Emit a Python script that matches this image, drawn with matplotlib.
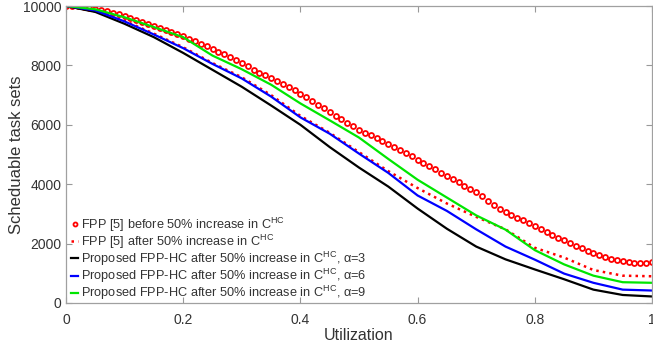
import numpy as np
import matplotlib
matplotlib.use('Agg')
import matplotlib.pyplot as plt

plt.rcParams['font.family'] = ['Liberation Sans', 'DejaVu Sans']
plt.rcParams['mathtext.fontset'] = 'custom'
plt.rcParams['mathtext.rm'] = 'Liberation Sans'

# Utilization grid for the circle-marker series (step 0.01)
util_fine = np.round(np.arange(0, 101) * 0.01, 2)
fpp_before = [
    10000, 9995, 9985, 9965, 9940, 9905, 9865, 9820, 9770, 9715,
    9655, 9595, 9530, 9465, 9400, 9330, 9260, 9190, 9120, 9050,
    8975, 8895, 8815, 8730, 8645, 8560, 8465, 8370, 8270, 8170,
    8070, 7965, 7860, 7760, 7660, 7560, 7460, 7360, 7260, 7155,
    7050, 6930, 6810, 6680, 6550, 6420, 6300, 6180, 6060, 5950,
    5840, 5740, 5645, 5550, 5455, 5360, 5255, 5150, 5045, 4940,
    4830, 4720, 4610, 4500, 4390, 4280, 4170, 4060, 3950, 3840,
    3730, 3590, 3450, 3310, 3180, 3060, 2960, 2870, 2780, 2690,
    2600, 2500, 2400, 2300, 2200, 2105, 2015, 1930, 1845, 1760,
    1680, 1610, 1545, 1490, 1440, 1405, 1375, 1355, 1345, 1350,
    1365,
]

# Utilization grid for the line series (step 0.05)
util = np.round(np.arange(0, 21) * 0.05, 2)
fpp_after = [10000, 9860, 9500, 9070, 8610, 8080, 7600, 7000, 6300, 5730,
             5080, 4440, 3870, 3350, 2900, 2480, 1860, 1530, 1110, 920, 900]
hc_a3 = [10000, 9800, 9400, 8950, 8420, 7850, 7280, 6650, 6000, 5250,
         4560, 3920, 3180, 2500, 1900, 1470, 1130, 800, 450, 270, 220]
hc_a6 = [10000, 9850, 9480, 9040, 8580, 8050, 7560, 6950, 6250, 5700,
         5030, 4380, 3620, 3100, 2480, 1900, 1460, 990, 680, 450, 420]
hc_a9 = [10000, 9890, 9620, 9290, 8950, 8330, 7870, 7350, 6720, 6150,
         5570, 4850, 4150, 3550, 2950, 2470, 1780, 1300, 920, 700, 680]

labels = [
    r'FPP [5] before 50% increase in C$^{\mathrm{HC}}$',
    r'FPP [5] after 50% increase in C$^{\mathrm{HC}}$',
    r'Proposed FPP-HC after 50% increase in C$^{\mathrm{HC}}$, α=3',
    r'Proposed FPP-HC after 50% increase in C$^{\mathrm{HC}}$, α=6',
    r'Proposed FPP-HC after 50% increase in C$^{\mathrm{HC}}$, α=9',
]

fig = plt.figure(figsize=(6.53, 3.45), dpi=100)
ax = fig.add_axes([66 / 653, 42 / 345, 586 / 653, 297 / 345])

ax.plot(util_fine, fpp_before, 'o', color='red', mfc='white', ms=3.6, mew=1.3, label=labels[0])
ax.plot(util, fpp_after, ':', color='red', lw=1.8, label=labels[1])
ax.plot(util, hc_a3, '-', color='black', lw=1.6, label=labels[2])
ax.plot(util, hc_a6, '-', color='blue', lw=1.6, label=labels[3])
ax.plot(util, hc_a9, '-', color='#00e600', lw=1.6, label=labels[4])

ax.set_xlim(0, 1)
ax.set_ylim(0, 10000)
ax.set_xticks([0, 0.2, 0.4, 0.6, 0.8, 1])
ax.set_xticklabels(['0', '0.2', '0.4', '0.6', '0.8', '1'])
ax.set_yticks([0, 2000, 4000, 6000, 8000, 10000])
ax.tick_params(direction='in', length=4, width=0.8, color='#999999',
               labelcolor='#333333', labelsize=10, top=True, right=True)
ax.tick_params(axis='x', pad=7)
for s in ax.spines.values():
    s.set_color('#a0a0a0')
    s.set_linewidth(0.9)

ax.set_xlabel('Utilization', fontsize=11.5, color='#333333', labelpad=1)
ax.set_ylabel('Scheduable task sets', fontsize=12, color='#333333', labelpad=-1)

leg = ax.legend(loc='upper left', bbox_to_anchor=(0.008, 0.295), frameon=False,
                fontsize=9.2, handlelength=0.6, handletextpad=0.2,
                labelspacing=-0.08, borderpad=0, borderaxespad=0, markerscale=0.8)
for t in leg.get_texts():
    t.set_color('#333333')

fig.savefig('out.png', dpi=100)
